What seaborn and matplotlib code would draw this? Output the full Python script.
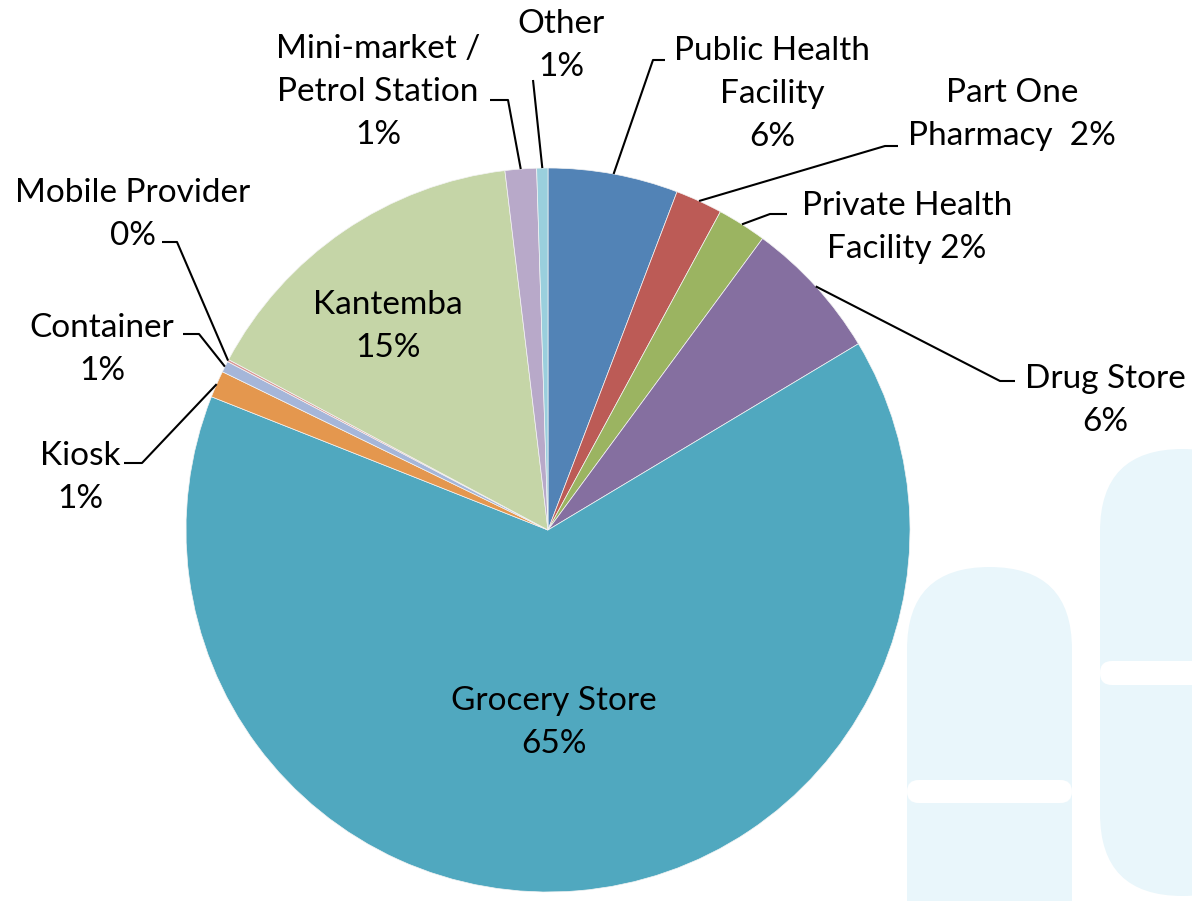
import numpy as np
import matplotlib.pyplot as plt
import seaborn as sns
from matplotlib.patches import FancyBboxPatch

sns.set_style('white')
plt.rcParams['font.family'] = ['Lato', 'DejaVu Sans']

# Shares of outlets (%), clockwise from 12 o'clock
categories = ['Public Health Facility', 'Part One Pharmacy', 'Private Health Facility',
              'Drug Store', 'Grocery Store', 'Kiosk', 'Container', 'Mobile Provider',
              'Kantemba', 'Mini-market / Petrol Station', 'Other']
shares = [5.8, 2.1, 2.2, 6.3, 64.6, 1.2, 0.5, 0.1, 15.3, 1.4, 0.5]
pct_labels = ['6%', '2%', '2%', '6%', '65%', '1%', '1%', '0%', '15%', '1%', '1%']
label_fmt = ['Public Health\nFacility\n{}', 'Part One\nPharmacy  {}', 'Private Health\nFacility {}',
             'Drug Store\n{}', 'Grocery Store\n{}', 'Kiosk\n{}', 'Container\n{}',
             'Mobile Provider\n{}', 'Kantemba\n{}', 'Mini-market /\nPetrol Station\n{}', 'Other\n{}']
colors = ['#5283B6', '#BC5B56', '#9BB461', '#856FA0', '#50A8BF', '#E4974E',
          '#A5B6D9', '#D99694', '#C5D5A7', '#B8A9C9', '#9ACFDD']

# layout in pixels (y from top): label centre x, first baseline, leader elbow / end
W, H = 1192, 901
label_pos = [(772, 60), (1012, 102), (907, 215), (1105, 388), (554, 710), (80, 465),
             (102, 337), (133, 202), (388, 314), (378, 58), (561, 33)]
leaders = [((653, 60), (665, 60)), ((885, 146), (898, 146)), ((770, 214), (787, 214)),
           ((1000, 381), (1015, 381)), None, ((142, 463), (124, 463)),
           ((199, 334), (183, 334)), ((177, 242), (162, 242)), None,
           ((508, 100), (490, 100)), ((533, 80), (533, 80))]
cx, cy, R = 548, 530, 362
FS = 24

fig = plt.figure(figsize=(W / 100, H / 100), dpi=100)
ax = fig.add_axes([0, 0, 1, 1])

# pale pill shapes in the background
pill = '#E9F6FB'
ax.add_patch(FancyBboxPatch((907, -300), 165, 301 + 333, boxstyle='round,pad=0,rounding_size=82.5',
                            fc=pill, ec='none', zorder=0))
ax.add_patch(FancyBboxPatch((907, H - 803), 165, 23, boxstyle='round,pad=0,rounding_size=11.5',
                            fc='white', ec='none', zorder=0.5))
ax.add_patch(FancyBboxPatch((1100, H - 896), 165, 447, boxstyle='round,pad=0,rounding_size=82.5',
                            fc=pill, ec='none', zorder=0))
ax.add_patch(FancyBboxPatch((1100, H - 685), 200, 24, boxstyle='round,pad=0,rounding_size=12',
                            fc='white', ec='none', zorder=0.5))

wedges, _ = ax.pie(shares, colors=sns.color_palette(colors), startangle=90, counterclock=False,
                   center=(cx, H - cy), radius=R,
                   wedgeprops=dict(linewidth=0.5, edgecolor='#f4f4f4'))
for w in wedges:
    w.set_zorder(2)

for i, w in enumerate(wedges):
    text = label_fmt[i].format(pct_labels[i])
    x, y0 = label_pos[i]
    for k, line in enumerate(text.split('\n')):
        ax.text(x, H - (y0 + k * 43), line, ha='center', va='baseline', fontsize=FS,
                color='black', zorder=5)
    if leaders[i] is not None:
        ang = np.deg2rad((w.theta1 + w.theta2) / 2)
        sx, sy = cx + R * np.cos(ang), H - cy + R * np.sin(ang)
        (ex, ey), (tx, ty) = leaders[i]
        ax.plot([sx, ex, tx], [sy, H - ey, H - ty], color='black', lw=1.5, zorder=4,
                solid_capstyle='butt')

ax.set_xlim(0, W)
ax.set_ylim(0, H)
ax.set_aspect('equal')
ax.set_axis_off()
fig.savefig('out.png', dpi=100)
